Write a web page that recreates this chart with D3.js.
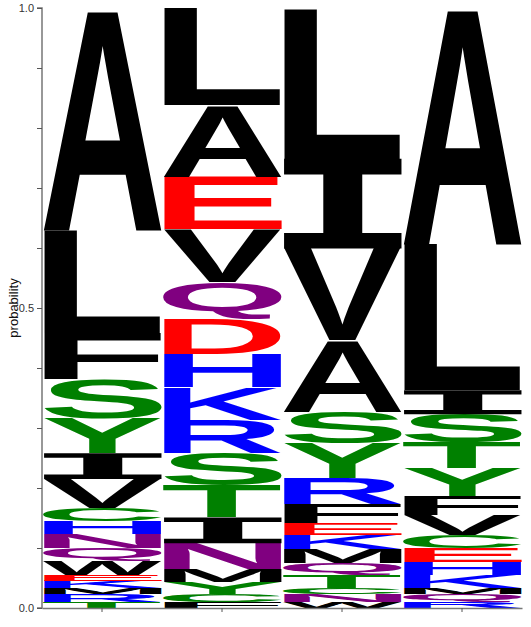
<!DOCTYPE html>
<html>
<head>
<meta charset="utf-8">
<script src="https://cdn.jsdelivr.net/npm/d3@7"></script>
<style>
  body { margin: 0; background: #fff; }
</style>
</head>
<body>
<div id="svg-container"></div>
<script>
// positions along the motif
const positions = [1, 2, 3, 4];

// letters per position, listed bottom to top, with their probabilities
const pos1Letters = ['T', 'R', 'M', 'K', 'E', 'W', 'Q', 'N', 'H', 'C', 'V', 'I', 'Y', 'S', 'F', 'L', 'A'];
const pos1Values  = [0.010, 0.013, 0.010, 0.012, 0.010, 0.023, 0.022, 0.023, 0.022, 0.022, 0.048, 0.043, 0.058, 0.065, 0.078, 0.170, 0.370];

const pos2Letters = ['F', 'C', 'Y', 'M', 'N', 'I', 'T', 'S', 'R', 'K', 'H', 'D', 'Q', 'V', 'E', 'A', 'L'];
const pos2Values  = [0.010, 0.013, 0.020, 0.022, 0.043, 0.043, 0.053, 0.055, 0.055, 0.055, 0.055, 0.057, 0.062, 0.088, 0.087, 0.120, 0.162];

const pos3Letters = ['W', 'N', 'C', 'T', 'Q', 'M', 'K', 'E', 'F', 'R', 'Y', 'S', 'A', 'V', 'I', 'L'];
const pos3Values  = [0.010, 0.013, 0.010, 0.022, 0.020, 0.023, 0.023, 0.020, 0.033, 0.043, 0.057, 0.052, 0.120, 0.153, 0.150, 0.250];

const pos4Letters = ['R', 'Q', 'M', 'K', 'H', 'E', 'C', 'V', 'F', 'Y', 'T', 'S', 'I', 'L', 'A'];
const pos4Values  = [0.010, 0.013, 0.010, 0.022, 0.022, 0.023, 0.022, 0.033, 0.032, 0.047, 0.042, 0.047, 0.040, 0.243, 0.395];

const yTicks = [0, 0.1, 0.2, 0.3, 0.4, 0.5, 0.6, 0.7, 0.8, 0.9, 1.0];
const yTickLabels = { 0: '0.0', 0.5: '0.5', 1: '1.0' };

const letterSets = [
  [pos1Letters, pos1Values],
  [pos2Letters, pos2Values],
  [pos3Letters, pos3Values],
  [pos4Letters, pos4Values]
];

const colorOf = letter => {
  if ('STYCG'.includes(letter)) return '#008000';
  if ('HKR'.includes(letter)) return '#0000ff';
  if ('DE'.includes(letter)) return '#ff0000';
  if ('NQ'.includes(letter)) return '#800080';
  return '#000000';
};

const w = 531;
const h = 627;

const svg = d3.select('#svg-container')
  .append('svg')
  .attr('width', w)
  .attr('height', h);

const xScale = d3.scaleBand()
  .domain(positions)
  .range([42, 522])
  .padding(0);

const yScale = d3.scaleLinear()
  .domain([0, 1])
  .range([608, 8]);

// build stacked rows from the arrays
const rows = [];
letterSets.forEach((set, i) => {
  let acc = 0;
  set[0].forEach((letter, j) => {
    rows.push({ pos: positions[i], letter: letter, y0: acc, y1: acc + set[1][j] });
    acc += set[1][j];
  });
});

// tight glyph bounds from canvas so each letter fills its box
const ctx = document.createElement('canvas').getContext('2d');
const fontFor = letter => letter === 'I' ? '"DejaVu Sans Mono"' : '"Liberation Sans", Arial';
const glyphBox = letter => {
  ctx.font = 'bold 100px ' + fontFor(letter);
  const m = ctx.measureText(letter);
  return {
    left: m.actualBoundingBoxLeft,
    right: m.actualBoundingBoxRight,
    asc: m.actualBoundingBoxAscent,
    desc: m.actualBoundingBoxDescent
  };
};

svg.append('g')
  .attr('id', 'letters')
  .selectAll('text')
  .data(rows)
  .enter()
  .append('text')
  .text(d => d.letter)
  .attr('font-family', d => fontFor(d.letter))
  .attr('font-weight', 'bold')
  .attr('font-size', 100)
  .attr('fill', d => colorOf(d.letter))
  .attr('transform', d => {
    const b = glyphBox(d.letter);
    const x = xScale(d.pos) + 1;
    const bw = xScale.bandwidth() - 1;
    const top = yScale(d.y1);
    const bh = yScale(d.y0) - yScale(d.y1);
    const sx = bw / (b.left + b.right);
    const sy = bh / (b.asc + b.desc);
    return 'translate(' + x + ',' + top + ') scale(' + sx + ',' + sy + ') translate(' + b.left + ',' + b.asc + ')';
  });

const yAxis = d3.axisLeft(yScale)
  .tickValues(yTicks)
  .tickSize(5)
  .tickFormat(d => yTickLabels[d] || '');

const xAxis = d3.axisBottom(xScale)
  .tickSize(4)
  .tickSizeOuter(0)
  .tickFormat('');

const gy = svg.append('g')
  .attr('transform', 'translate(42, 0)')
  .attr('id', 'y-axis')
  .call(yAxis);

const gx = svg.append('g')
  .attr('transform', 'translate(0, 608)')
  .attr('id', 'x-axis')
  .call(xAxis);

[gy, gx].forEach(g => {
  g.select('.domain').attr('stroke', '#777').attr('stroke-width', 1.5);
  g.selectAll('.tick line').attr('stroke', '#555');
  g.selectAll('.tick text')
    .attr('fill', '#333')
    .attr('font-family', '"Liberation Sans", Arial')
    .attr('font-size', 11);
});
gy.select('.domain').attr('d', 'M-5,8H0V608H-5');

svg.append('text')
  .text('probability')
  .attr('transform', 'translate(18, ' + yScale(0.5) + ') rotate(-90)')
  .attr('text-anchor', 'middle')
  .attr('font-family', '"Liberation Sans", Arial')
  .attr('font-size', 13)
  .attr('fill', '#111');
</script>
</body>
</html>
